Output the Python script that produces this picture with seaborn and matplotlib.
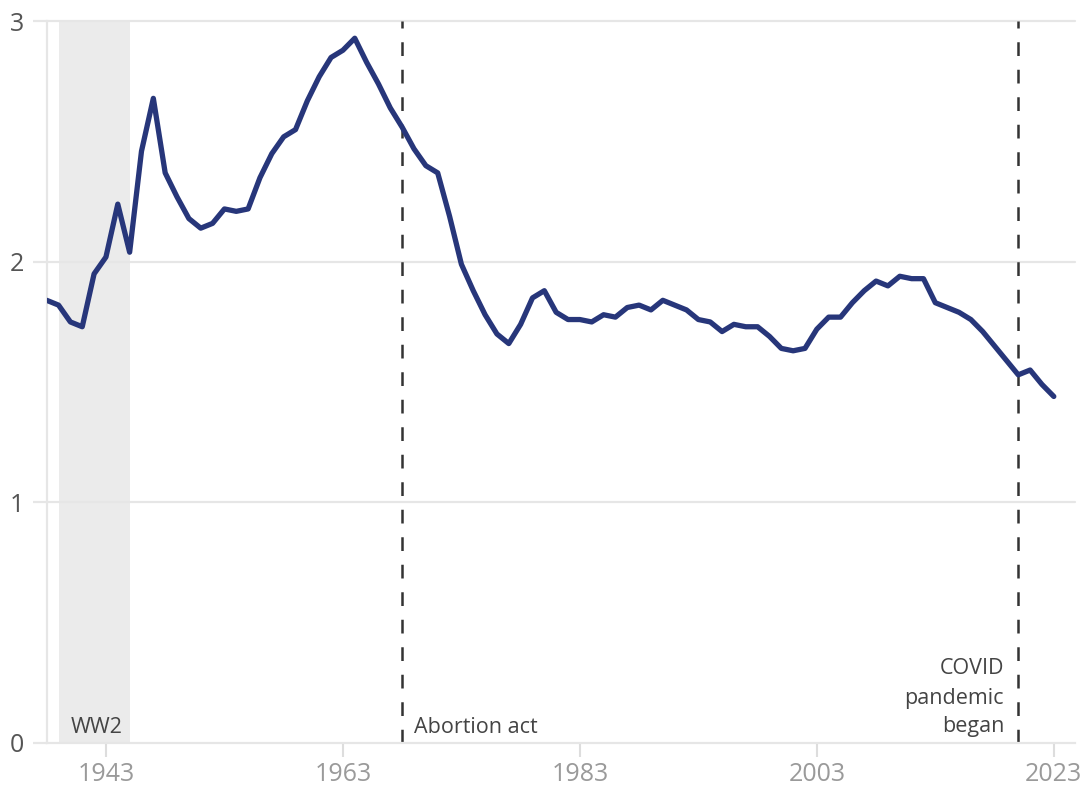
import matplotlib
matplotlib.use("Agg")
import matplotlib.pyplot as plt
import seaborn as sns
import pandas as pd

# annual fertility rate
years = list(range(1938, 2024))
rate = [1.84, 1.82, 1.75, 1.73, 1.95, 2.02, 2.24, 2.04, 2.46, 2.68,
        2.37, 2.27, 2.18, 2.14, 2.16, 2.22, 2.21, 2.22, 2.35, 2.45,
        2.52, 2.55, 2.67, 2.77, 2.85, 2.88, 2.93, 2.83, 2.74, 2.64,
        2.56, 2.47, 2.40, 2.37, 2.19, 1.99, 1.88, 1.78, 1.70, 1.66,
        1.74, 1.85, 1.88, 1.79, 1.76, 1.76, 1.75, 1.78, 1.77, 1.81,
        1.82, 1.80, 1.84, 1.82, 1.80, 1.76, 1.75, 1.71, 1.74, 1.73,
        1.73, 1.69, 1.64, 1.63, 1.64, 1.72, 1.77, 1.77, 1.83, 1.88,
        1.92, 1.90, 1.94, 1.93, 1.93, 1.83, 1.81, 1.79, 1.76, 1.71,
        1.65, 1.59, 1.53, 1.55, 1.49, 1.44]

xticks = [1943, 1963, 1983, 2003, 2023]
yticks = [0, 1, 2, 3]
ww2 = (1939, 1945)
abortion_year = 1968
covid_year = 2020

df = pd.DataFrame({"year": years, "rate": rate})

sns.set_style("white")
plt.rcParams["font.family"] = ["Open Sans", "DejaVu Sans"]

fig = plt.figure(figsize=(10.86, 7.87), dpi=100)
ax = fig.add_axes([0.043, 0.0563, 0.947, 0.9165])

grid_col = "#e6e6e6"
ax.axvspan(ww2[0], ww2[1], color="#ebebeb", zorder=0, lw=0)
for y in yticks[1:]:
    ax.axhline(y, color=grid_col, lw=1.6, zorder=0.5, clip_on=False)

sns.lineplot(data=df, x="year", y="rate", ax=ax, color="#27367a", lw=3.8,
             solid_joinstyle="round", solid_capstyle="round", zorder=3)

for xv in (abortion_year, covid_year):
    ax.axvline(xv, color="#333333", lw=1.8, dashes=(5.5, 5.5), zorder=2)

txt = dict(fontsize=15.5, color="#444444", va="baseline")
ax.text(1940.0, 0.04, "WW2", ha="left", **txt)
ax.text(1969.0, 0.04, "Abortion act", ha="left", **txt)
ax.text(2018.8, 0.284, "COVID", ha="right", **txt)
ax.text(2018.8, 0.159, "pandemic", ha="right", **txt)
ax.text(2018.8, 0.043, "began", ha="right", **txt)

ax.set_xlim(1938, 2024.8)
ax.set_ylim(0, 3)
ax.set_xticks(xticks)
ax.set_yticks(yticks)
ax.set_xlabel("")
ax.set_ylabel("")

for s in ["top", "right"]:
    ax.spines[s].set_visible(False)
for s in ["left", "bottom"]:
    ax.spines[s].set_color(grid_col)
    ax.spines[s].set_linewidth(1.6)

ax.tick_params(axis="x", bottom=True, length=10, width=1.5, color="#dddddd",
               pad=4, labelsize=18, labelcolor="#9a9a9a")
ax.tick_params(axis="y", left=True, length=10, width=1.6, color=grid_col,
               pad=6, labelsize=18, labelcolor="#555555")

fig.savefig("out.png", dpi=100)
